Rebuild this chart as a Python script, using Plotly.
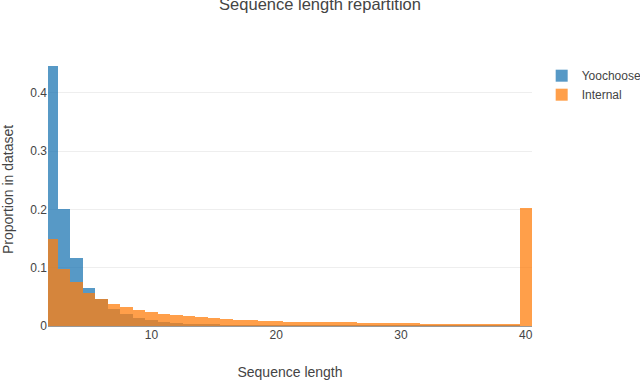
import plotly.graph_objects as go

lengths = list(range(2, 41))

yoochoose = [0.446, 0.201, 0.116, 0.066, 0.046, 0.030, 0.021, 0.014, 0.0103,
             0.0065, 0.0048, 0.0036, 0.0025, 0.0019, 0.0015, 0.0012, 0.0010, 0.0008, 0.0007,
             0.0006, 0.0005, 0.0004, 0.0004, 0.0003, 0.0003, 0.0003, 0.0002, 0.0002, 0.0002,
             0.0002, 0.0002, 0.0001, 0.0001, 0.0001, 0.0001, 0.0001, 0.0001, 0.0001, 0.0]

internal = [0.149, 0.098, 0.075, 0.056, 0.046, 0.038, 0.0326, 0.0275, 0.024,
            0.021, 0.0195, 0.0172, 0.0155, 0.0137, 0.012, 0.0103, 0.0103, 0.0086, 0.0086,
            0.0069, 0.0069, 0.0063, 0.0063, 0.0063, 0.0063, 0.0046, 0.0046, 0.0046, 0.0046,
            0.0046, 0.003, 0.003, 0.003, 0.003, 0.003, 0.003, 0.003, 0.003, 0.2026]

fnt = 'Liberation Sans, Arial, sans-serif'

fig = go.Figure()
fig.add_bar(x=lengths, y=yoochoose, name='Yoochoose', width=1,
            marker=dict(color='#1f77b4', line=dict(width=0)), opacity=0.75)
fig.add_bar(x=lengths, y=internal, name='Internal', width=1,
            marker=dict(color='#ff7f0e', line=dict(width=0)), opacity=0.75)

fig.update_layout(
    template='none',
    width=640, height=380,
    barmode='overlay', bargap=0,
    font=dict(family=fnt, size=12, color='#444'),
    margin=dict(l=48, r=108, t=53, b=54, pad=0, autoexpand=False),
    title=dict(text='Sequence length repartition', x=0.5, xanchor='center',
               y=0.9895, yanchor='middle', font=dict(size=16.5)),
    legend=dict(x=1.02, y=0.97, xanchor='left', yanchor='top', font=dict(size=12)),
    plot_bgcolor='white', paper_bgcolor='white',
)
fig.update_xaxes(range=[1.7, 40.5], showgrid=False, zeroline=False, ticks='',
                 showline=False, dtick=10, automargin=False,
                 title=dict(text='Sequence length', font=dict(size=14), standoff=30))
fig.update_yaxes(range=[0, 0.468], showgrid=True, gridcolor='#eee', zeroline=True,
                 zerolinecolor='#999', zerolinewidth=1, ticks='', dtick=0.1,
                 automargin=False,
                 title=dict(text='Proportion in dataset', font=dict(size=14), standoff=14))

# page body has an 8px default margin, drop it so the figure sits at 0,0
fig.write_html('out.html', config={'displayModeBar': False},
               post_script="document.body.style.margin='0';document.body.style.overflow='hidden';")
